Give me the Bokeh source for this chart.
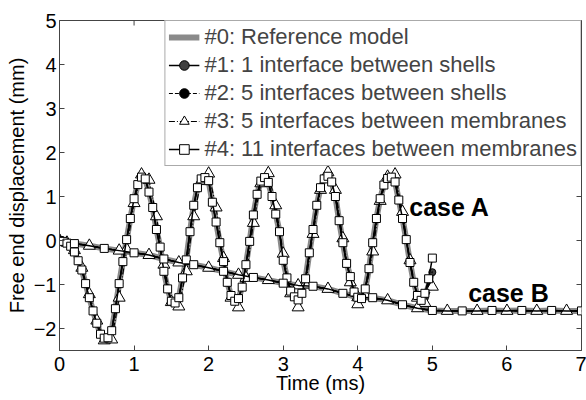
import math
from bokeh.plotting import figure
from bokeh.models import (Legend, LegendItem, Label, ColumnDataSource,
                          FixedTicker, Range1d)
from bokeh.embed import file_html
from bokeh.resources import INLINE

# ---------------- data ----------------
x_ticks = [0, 1, 2, 3, 4, 5, 6, 7]
y_ticks = [-2, -1, 0, 1, 2, 3, 4, 5]

series_names = ["#0: Reference model",
                "#1: 1 interface between shells",
                "#2: 5 interfaces between shells",
                "#3: 5 interfaces between membranes",
                "#4: 11 interfaces between membranes"]

# case A (sampled every 0.05 ms)
tA = [0.00, 0.05, 0.10, 0.15, 0.20, 0.25, 0.30, 0.35, 0.40, 0.45,
      0.50, 0.55, 0.60, 0.65, 0.70, 0.75, 0.80, 0.85, 0.90, 0.95,
      1.00, 1.05, 1.10, 1.15, 1.20, 1.25, 1.30, 1.35, 1.40, 1.45,
      1.50, 1.55, 1.60, 1.65, 1.70, 1.75, 1.80, 1.85, 1.90, 1.95,
      2.00, 2.05, 2.10, 2.15, 2.20, 2.25, 2.30, 2.35, 2.40, 2.45,
      2.50, 2.55, 2.60, 2.65, 2.70, 2.75, 2.80, 2.85, 2.90, 2.95,
      3.00, 3.05, 3.10, 3.15, 3.20, 3.25, 3.30, 3.35, 3.40, 3.45,
      3.50, 3.55, 3.60, 3.65, 3.70, 3.75, 3.80, 3.85, 3.90, 3.95,
      4.00, 4.05, 4.10, 4.15, 4.20, 4.25, 4.30, 4.35, 4.40, 4.45,
      4.50, 4.55, 4.60, 4.65, 4.70, 4.75, 4.80, 4.85, 4.90, 4.95,
      5.00]
yA_ref = [0.00, -0.02, -0.06, -0.13, -0.26, -0.46, -0.67, -0.98, -1.30, -1.60,
          -1.88, -2.13, -2.22, -2.21, -2.05, -1.55, -0.98, -0.48, 0.02, 0.50,
          0.95, 1.27, 1.44, 1.40, 1.10, 0.75, 0.25, -0.15, -0.70, -1.10,
          -1.38, -1.42, -1.30, -0.85, -0.44, 0.20, 0.80, 1.20, 1.40, 1.43,
          1.36, 0.87, 0.42, -0.05, -0.48, -0.95, -1.25, -1.38, -1.32, -1.06,
          -0.55, -0.02, 0.58, 1.05, 1.35, 1.43, 1.32, 1.00, 0.60, 0.20,
          -0.45, -0.85, -1.15, -1.28, -1.35, -1.20, -0.87, -0.28, 0.25, 0.80,
          1.20, 1.40, 1.46, 1.33, 1.00, 0.45, -0.05, -0.52, -0.82, -1.17,
          -1.29, -1.32, -1.10, -0.64, -0.05, 0.50, 0.95, 1.26, 1.41, 1.44,
          1.33, 0.92, 0.50, 0.02, -0.50, -0.95, -1.25, -1.36, -1.28, -1.02,
          -0.70]
yA_1 = [0.00, -0.02, -0.06, -0.13, -0.26, -0.46, -0.67, -0.98, -1.30, -1.60,
        -1.88, -2.13, -2.22, -2.21, -2.05, -1.55, -0.98, -0.48, 0.02, 0.50,
        0.95, 1.27, 1.44, 1.40, 1.10, 0.75, 0.25, -0.15, -0.70, -1.10,
        -1.38, -1.42, -1.30, -0.85, -0.44, 0.20, 0.80, 1.20, 1.40, 1.43,
        1.36, 0.87, 0.42, -0.05, -0.48, -0.95, -1.25, -1.38, -1.32, -1.06,
        -0.55, -0.02, 0.58, 1.05, 1.35, 1.43, 1.32, 1.00, 0.60, 0.20,
        -0.45, -0.85, -1.15, -1.28, -1.35, -1.20, -0.87, -0.28, 0.25, 0.80,
        1.20, 1.40, 1.46, 1.33, 1.00, 0.45, -0.05, -0.52, -0.82, -1.17,
        -1.29, -1.32, -1.10, -0.64, -0.05, 0.50, 0.95, 1.26, 1.41, 1.44,
        1.33, 0.92, 0.50, 0.02, -0.50, -0.95, -1.25, -1.36, -1.30, -1.05,
        -0.72]
yA_4 = [0.00, -0.02, -0.06, -0.13, -0.26, -0.46, -0.67, -0.98, -1.30, -1.60,
        -1.88, -2.13, -2.22, -2.21, -2.05, -1.55, -0.98, -0.48, 0.02, 0.50,
        0.95, 1.27, 1.44, 1.40, 1.10, 0.75, 0.25, -0.15, -0.70, -1.10,
        -1.38, -1.42, -1.30, -0.85, -0.44, 0.20, 0.80, 1.20, 1.40, 1.43,
        1.36, 0.87, 0.42, -0.05, -0.48, -0.95, -1.25, -1.38, -1.32, -1.06,
        -0.55, -0.02, 0.58, 1.05, 1.35, 1.43, 1.32, 1.00, 0.60, 0.20,
        -0.45, -0.85, -1.15, -1.28, -1.35, -1.20, -0.87, -0.28, 0.25, 0.80,
        1.20, 1.40, 1.46, 1.33, 1.00, 0.45, -0.05, -0.52, -0.82, -1.17,
        -1.29, -1.32, -1.10, -0.64, -0.05, 0.50, 0.95, 1.26, 1.41, 1.44,
        1.33, 0.92, 0.50, 0.02, -0.50, -0.95, -1.25, -1.36, -1.20, -0.87,
        -0.40]
# case A, model #3 (sampled every 0.1 ms)
tA_3 = [0.0, 0.1, 0.2, 0.3, 0.4, 0.5, 0.6, 0.7, 0.8, 0.9,
        1.0, 1.1, 1.2, 1.3, 1.4, 1.5, 1.6, 1.7, 1.8, 1.9,
        2.0, 2.1, 2.2, 2.3, 2.4, 2.5, 2.6, 2.7, 2.8, 2.9,
        3.0, 3.1, 3.2, 3.3, 3.4, 3.5, 3.6, 3.7, 3.8, 3.9,
        4.0, 4.1, 4.2, 4.3, 4.4, 4.5, 4.6, 4.7, 4.8, 4.9, 5.0]
yA_3 = [0.00, -0.05, -0.22, -0.62, -1.22, -1.82, -2.27, -2.25, -1.30, -0.20,
        0.85, 1.50, 1.38, 0.55, -0.55, -1.40, -1.50, -0.70, 0.55, 1.35,
        1.52, 0.75, -0.40, -1.30, -1.52, -0.85, 0.40, 1.30, 1.53, 0.80,
        -0.30, -1.20, -1.52, -1.00, 0.15, 1.15, 1.55, 1.15, 0.05, -0.95,
        -1.45, -1.25, -0.25, 0.90, 1.45, 1.50, 0.65, -0.45, -1.30, -1.42,
        -1.05]

# case B (sampled every 0.2 ms)
tB = [0.0, 0.2, 0.4, 0.6, 0.8, 1.0, 1.2, 1.4, 1.6, 1.8,
      2.0, 2.2, 2.4, 2.6, 2.8, 3.0, 3.2, 3.4, 3.6, 3.8,
      4.0, 4.2, 4.4, 4.6, 4.8, 5.0, 5.2, 5.4, 5.6, 5.8,
      6.0, 6.2, 6.4, 6.6, 6.8, 7.0]
yB = [0.00, -0.07, -0.12, -0.18, -0.23, -0.28, -0.33, -0.42, -0.50, -0.55,
      -0.62, -0.70, -0.78, -0.84, -0.90, -0.97, -1.02, -1.04, -1.10, -1.20,
      -1.29, -1.30, -1.36, -1.46, -1.54, -1.59, -1.60, -1.60, -1.60, -1.59,
      -1.60, -1.59, -1.60, -1.59, -1.60, -1.60]

label_A = ("case A", 4.69, 0.77)
label_B = ("case B", 5.48, -1.20)

FONT = "Liberation Sans"
AXC = "#444444"

# ---------------- figure ----------------
p = figure(width=586, height=400, x_range=Range1d(0, 7), y_range=Range1d(-2.5, 5),
           output_backend="svg", toolbar_location=None,
           min_border_left=59, min_border_right=5, min_border_top=20,
           min_border_bottom=50)
p.background_fill_color = "white"
p.border_fill_color = "white"
p.grid.visible = False
p.outline_line_color = AXC
p.outline_line_width = 1

for ax in (p.xaxis[0], p.yaxis[0]):
    ax.major_tick_in = 5
    ax.major_tick_out = 0
    ax.minor_tick_line_color = None
    ax.axis_line_color = AXC
    ax.major_tick_line_color = AXC
    ax.major_label_text_font = FONT
    ax.major_label_text_font_size = "20px"
    ax.major_label_text_color = "black"
    ax.axis_label_text_font = FONT
    ax.axis_label_text_font_size = "20px"
    ax.axis_label_text_font_style = "normal"
    ax.axis_label_text_color = "black"

p.xaxis[0].ticker = FixedTicker(ticks=x_ticks)
p.yaxis[0].ticker = FixedTicker(ticks=y_ticks)
p.xaxis[0].axis_label = "Time (ms)"
p.yaxis[0].axis_label = "Free end displacement (mm)"
p.xaxis[0].major_label_standoff = 6
p.xaxis[0].axis_label_standoff = -2
p.yaxis[0].major_label_standoff = 3
p.yaxis[0].axis_label_standoff = 3

# inward ticks on the top and right edges of the box (5 px long, screen units)
p.ray(x=x_ticks, y=[5] * len(x_ticks), length=5, length_units="screen",
      angle=-math.pi / 2, line_color=AXC, line_width=1)
p.ray(x=[7] * len(y_ticks), y=y_ticks, length=5, length_units="screen",
      angle=math.pi, line_color=AXC, line_width=1)

srcA0 = ColumnDataSource(dict(x=tA, y=yA_ref))
srcA1 = ColumnDataSource(dict(x=tA, y=yA_1))
srcA1m = ColumnDataSource(dict(x=tA[::2], y=yA_1[::2]))
srcA2 = ColumnDataSource(dict(x=tA, y=yA_ref))
srcA2m = ColumnDataSource(dict(x=tA[1::2], y=yA_ref[1::2]))
srcA3 = ColumnDataSource(dict(x=tA_3, y=yA_3))
srcA4 = ColumnDataSource(dict(x=tA, y=yA_4))
srcB = ColumnDataSource(dict(x=tB, y=yB))
srcB3 = ColumnDataSource(dict(x=tB[::2], y=yB[::2]))
srcB4m = ColumnDataSource(dict(x=tB[1::2], y=yB[1::2]))

# #0 reference
r0a = p.line("x", "y", source=srcA0, line_color="#8a8a8a", line_width=6)
p.line("x", "y", source=srcB, line_color="#8a8a8a", line_width=6)
# #1
r1a = p.line("x", "y", source=srcA1, line_color="black", line_width=1.5)
r1m = p.scatter("x", "y", source=srcA1m, marker="circle", size=7,
                fill_color="#404040", line_color="black")
p.line("x", "y", source=srcB, line_color="black", line_width=1.5)
# #2
r2a = p.line("x", "y", source=srcA2, line_color="black", line_width=1.2, line_dash="4 2")
r2m = p.scatter("x", "y", source=srcA2m, marker="circle", size=3,
                fill_color="black", line_color="black")
p.line("x", "y", source=srcB, line_color="black", line_width=1.2, line_dash="4 2")
# #3
r3a = p.line("x", "y", source=srcA3, line_color="black", line_width=1.2, line_dash="6 2 1 2")
p.line("x", "y", source=srcB3, line_color="black", line_width=1.2, line_dash="6 2 1 2")
r3m = p.scatter("x", "y", source=srcA3, marker="triangle", size=12,
                fill_color="white", line_color="black")
p.scatter("x", "y", source=srcB3, marker="triangle", size=12,
          fill_color="white", line_color="black")
# #4
r4a = p.line("x", "y", source=srcA4, line_color="black", line_width=1.5)
p.line("x", "y", source=srcB, line_color="black", line_width=1.5)
r4m = p.scatter("x", "y", source=srcA4, marker="square", size=8,
                fill_color="white", line_color="black")
p.scatter("x", "y", source=srcB4m, marker="square", size=8,
          fill_color="white", line_color="black")

for txt, lx, ly in (label_A, label_B):
    p.add_layout(Label(x=lx, y=ly, text=txt, text_font=FONT, text_font_size="25px",
                       text_font_style="bold", text_color="black",
                       text_baseline="alphabetic", text_align="left"))

legend = Legend(items=[
    LegendItem(label=series_names[0], renderers=[r0a]),
    LegendItem(label=series_names[1], renderers=[r1a, r1m]),
    LegendItem(label=series_names[2], renderers=[r2a, r2m]),
    LegendItem(label=series_names[3], renderers=[r3a, r3m]),
    LegendItem(label=series_names[4], renderers=[r4a, r4m]),
], location="top_right", margin=0, padding=3, spacing=2,
   glyph_width=31, glyph_height=24, label_standoff=5,
   label_text_font=FONT, label_text_font_size="22px",
   border_line_color="#555555", border_line_width=1,
   background_fill_color="white", background_fill_alpha=1.0)
p.add_layout(legend)

open("out.html", "w").write(file_html(p, INLINE))
